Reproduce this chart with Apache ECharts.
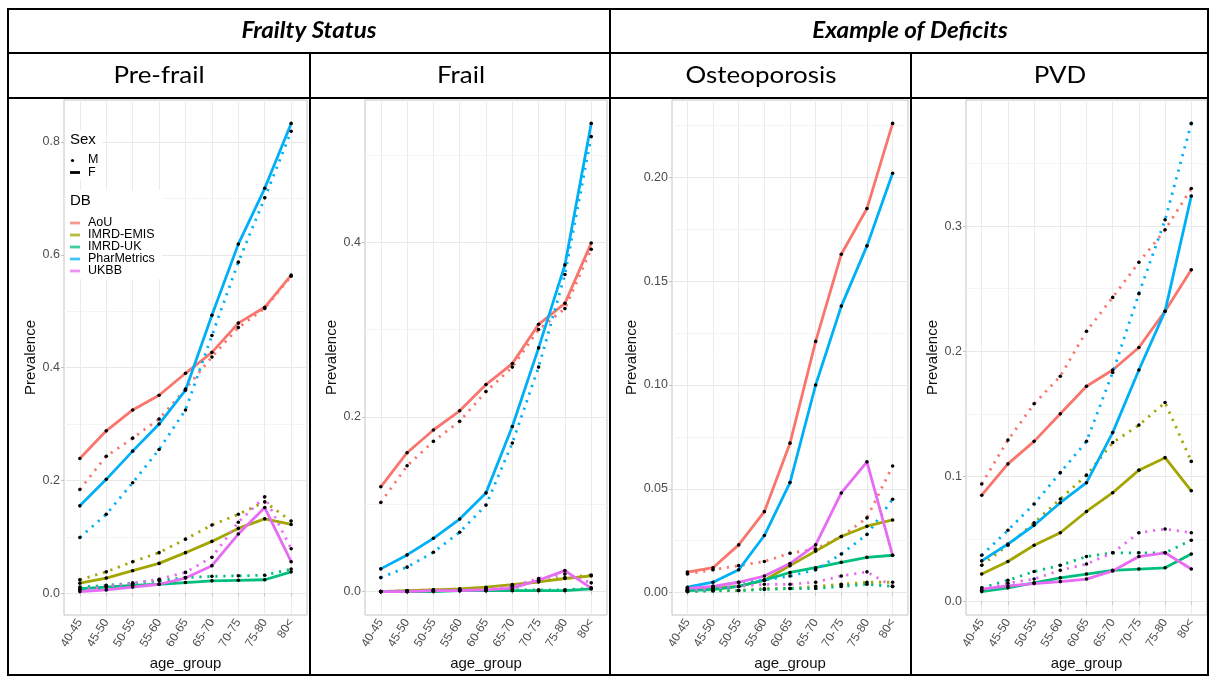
<!DOCTYPE html>
<html>
<head>
<meta charset="utf-8">
<script src="https://cdn.jsdelivr.net/npm/echarts@6.0.0/dist/echarts.min.js"></script>
<style>
html, body { margin: 0; padding: 0; background: #fff; }
#chart { width: 1210px; height: 677px; }
</style>
</head>
<body>
<div id="chart"></div>
<script>
// categories and groups
var ageGroups = ['40-45', '45-50', '50-55', '55-60', '60-65', '65-70', '70-75', '75-80', '80<'];
var dbNames = ['AoU', 'IMRD-EMIS', 'IMRD-UK', 'PharMetrics', 'UKBB'];
var sexNames = ['M', 'F'];
var groupTitles = ['Frailty Status', 'Example of Deficits'];
var panelTitles = ['Pre-frail', 'Frail', 'Osteoporosis', 'PVD'];

// Pre-frail (F = solid, M = dotted)
var preFrailAoU_F   = [0.239, 0.288, 0.325, 0.351, 0.390, 0.427, 0.479, 0.507, 0.564];
var preFrailAoU_M   = [0.184, 0.243, 0.275, 0.309, 0.362, 0.419, 0.471, 0.505, 0.562];
var preFrailEMIS_F  = [0.018, 0.027, 0.040, 0.053, 0.072, 0.092, 0.115, 0.132, 0.122];
var preFrailEMIS_M  = [0.024, 0.038, 0.056, 0.072, 0.096, 0.121, 0.140, 0.162, 0.128];
var preFrailUK_F    = [0.008, 0.011, 0.014, 0.016, 0.019, 0.022, 0.023, 0.024, 0.038];
var preFrailUK_M    = [0.011, 0.014, 0.018, 0.022, 0.028, 0.030, 0.031, 0.032, 0.043];
var preFrailPharm_F = [0.155, 0.202, 0.252, 0.300, 0.360, 0.493, 0.619, 0.718, 0.833];
var preFrailPharm_M = [0.099, 0.140, 0.196, 0.255, 0.325, 0.457, 0.587, 0.701, 0.819];
var preFrailUKBB_F  = [0.003, 0.006, 0.011, 0.016, 0.027, 0.049, 0.105, 0.152, 0.056];
var preFrailUKBB_M  = [0.006, 0.012, 0.018, 0.025, 0.037, 0.064, 0.126, 0.171, 0.079];

// Frail
var frailAoU_F   = [0.120, 0.159, 0.185, 0.207, 0.237, 0.261, 0.306, 0.330, 0.399];
var frailAoU_M   = [0.102, 0.144, 0.172, 0.195, 0.229, 0.257, 0.300, 0.324, 0.392];
var frailEMIS_F  = [0.000, 0.001, 0.002, 0.003, 0.005, 0.008, 0.011, 0.015, 0.018];
var frailEMIS_M  = [0.000, 0.001, 0.002, 0.003, 0.004, 0.007, 0.012, 0.016, 0.019];
var frailUK_F    = [0.000, 0.000, 0.000, 0.001, 0.001, 0.001, 0.001, 0.001, 0.003];
var frailUK_M    = [0.000, 0.000, 0.001, 0.001, 0.001, 0.002, 0.002, 0.002, 0.004];
var frailPharm_F = [0.026, 0.042, 0.061, 0.083, 0.113, 0.189, 0.279, 0.374, 0.536];
var frailPharm_M = [0.016, 0.028, 0.045, 0.068, 0.099, 0.170, 0.257, 0.363, 0.521];
var frailUKBB_F  = [0.000, 0.000, 0.001, 0.001, 0.002, 0.004, 0.013, 0.024, 0.004];
var frailUKBB_M  = [0.000, 0.001, 0.001, 0.002, 0.003, 0.006, 0.015, 0.020, 0.010];

// Osteoporosis
var osteoAoU_F   = [0.0099, 0.012, 0.023, 0.039, 0.072, 0.121, 0.163, 0.185, 0.226];
var osteoAoU_M   = [0.009, 0.011, 0.013, 0.015, 0.019, 0.021, 0.027, 0.036, 0.061];
var osteoEMIS_F  = [0.001, 0.002, 0.003, 0.006, 0.013, 0.020, 0.027, 0.032, 0.035];
var osteoEMIS_M  = [0.0005, 0.001, 0.001, 0.002, 0.002, 0.003, 0.004, 0.005, 0.005];
var osteoUK_F    = [0.001, 0.0015, 0.003, 0.006, 0.0097, 0.012, 0.0146, 0.017, 0.018];
var osteoUK_M    = [0.0005, 0.0008, 0.001, 0.0015, 0.002, 0.002, 0.003, 0.004, 0.003];
var osteoPharm_F = [0.0026, 0.005, 0.011, 0.0275, 0.053, 0.100, 0.138, 0.167, 0.202];
var osteoPharm_M = [0.0016, 0.003, 0.005, 0.006, 0.008, 0.011, 0.0186, 0.028, 0.045];
var osteoUKBB_F  = [0.002, 0.003, 0.005, 0.008, 0.014, 0.023, 0.048, 0.063, 0.018];
var osteoUKBB_M  = [0.001, 0.002, 0.003, 0.004, 0.004, 0.005, 0.008, 0.010, 0.003];

// PVD
var pvdAoU_F   = [0.085, 0.110, 0.128, 0.150, 0.172, 0.185, 0.203, 0.232, 0.265];
var pvdAoU_M   = [0.094, 0.129, 0.158, 0.180, 0.216, 0.243, 0.271, 0.297, 0.330];
var pvdEMIS_F  = [0.022, 0.032, 0.045, 0.055, 0.072, 0.087, 0.105, 0.115, 0.0885];
var pvdEMIS_M  = [0.029, 0.045, 0.063, 0.082, 0.101, 0.127, 0.141, 0.159, 0.112];
var pvdUK_F    = [0.008, 0.011, 0.015, 0.019, 0.022, 0.025, 0.026, 0.027, 0.038];
var pvdUK_M    = [0.011, 0.017, 0.024, 0.029, 0.036, 0.039, 0.039, 0.039, 0.049];
var pvdPharm_F = [0.0325, 0.046, 0.061, 0.079, 0.095, 0.135, 0.185, 0.232, 0.324];
var pvdPharm_M = [0.037, 0.057, 0.078, 0.103, 0.128, 0.183, 0.246, 0.305, 0.382];
var pvdUKBB_F  = [0.010, 0.0125, 0.0144, 0.016, 0.018, 0.0245, 0.036, 0.039, 0.026];
var pvdUKBB_M  = [0.009, 0.0147, 0.018, 0.025, 0.030, 0.039, 0.055, 0.058, 0.055];

// y tick values
var preFrailTicks = [0, 0.2, 0.4, 0.6, 0.8];
var preFrailMinor = [0.1, 0.3, 0.5, 0.7];
var frailTicks = [0, 0.2, 0.4];
var frailMinor = [0.1, 0.3, 0.5];
var osteoTicks = [0, 0.05, 0.10, 0.15, 0.20];
var osteoMinor = [0.025, 0.075, 0.125, 0.175, 0.225];
var pvdTicks = [0, 0.1, 0.2, 0.3];
var pvdMinor = [0.05, 0.15, 0.25, 0.35];

// ggplot default hues
var dbColors = ['#F8766D', '#A3A500', '#00BF7D', '#00B0F6', '#E76BF3'];

var panels = [
    { box: [64, 307], ticks: preFrailTicks, minor: preFrailMinor, digits: 1,
      F: [preFrailAoU_F, preFrailEMIS_F, preFrailUK_F, preFrailPharm_F, preFrailUKBB_F],
      M: [preFrailAoU_M, preFrailEMIS_M, preFrailUK_M, preFrailPharm_M, preFrailUKBB_M] },
    { box: [365, 607], ticks: frailTicks, minor: frailMinor, digits: 1,
      F: [frailAoU_F, frailEMIS_F, frailUK_F, frailPharm_F, frailUKBB_F],
      M: [frailAoU_M, frailEMIS_M, frailUK_M, frailPharm_M, frailUKBB_M] },
    { box: [672, 908], ticks: osteoTicks, minor: osteoMinor, digits: 2,
      F: [osteoAoU_F, osteoEMIS_F, osteoUK_F, osteoPharm_F, osteoUKBB_F],
      M: [osteoAoU_M, osteoEMIS_M, osteoUK_M, osteoPharm_M, osteoUKBB_M] },
    { box: [966, 1207], ticks: pvdTicks, minor: pvdMinor, digits: 1,
      F: [pvdAoU_F, pvdEMIS_F, pvdUK_F, pvdPharm_F, pvdUKBB_F],
      M: [pvdAoU_M, pvdEMIS_M, pvdUK_M, pvdPharm_M, pvdUKBB_M] }
];

var PANEL_TOP = 100;
var PANEL_BOTTOM = 615;
var plotFont = "'Liberation Sans', Arial, sans-serif";
var dottedType = [2.2, 5.8];

// ggplot style 5% expansion of the data range
function expandRange(p) {
    var all = [];
    p.F.concat(p.M).forEach(function (arr) { all = all.concat(arr); });
    var lo = Math.min.apply(null, all);
    var hi = Math.max.apply(null, all);
    var pad = (hi - lo) * 0.05;
    return [lo - pad, hi + pad];
}

var grid = [], xAxis = [], yAxis = [], series = [];

panels.forEach(function (p) {
    var ext = expandRange(p);
    var left = p.box[0];
    var width = p.box[1] - p.box[0];
    var height = PANEL_BOTTOM - PANEL_TOP;
    var inset = width * 0.6 / 9.2;

    // background grid: border, horizontal grid, y labels
    var gBg = grid.length;
    grid.push({
        left: left, top: PANEL_TOP, width: width, height: height,
        show: true, borderColor: '#c4c4c4', borderWidth: 1,
        containLabel: false, outerBoundsMode: 'none'
    });
    // data grid: discrete x positions like ggplot (0.6 padding)
    var gData = grid.length;
    grid.push({
        left: left + inset, top: PANEL_TOP, width: width - 2 * inset, height: height,
        containLabel: false, outerBoundsMode: 'none'
    });

    xAxis.push({ gridIndex: gBg, type: 'value', min: 0, max: 1, show: false });
    var xData = xAxis.length;
    xAxis.push({
        gridIndex: gData, type: 'category', data: ageGroups, boundaryGap: false,
        axisLine: { show: false },
        axisTick: { show: true, length: 3, lineStyle: { color: '#c4c4c4' } },
        axisLabel: { interval: 0, rotate: 58, fontSize: 12, color: '#4d4d4d', fontFamily: plotFont, margin: 5 },
        splitLine: { show: true, lineStyle: { color: '#ebebeb', width: 1 } },
        name: 'age_group', nameLocation: 'middle', nameGap: 38,
        nameTextStyle: { fontSize: 15, color: '#111', fontFamily: plotFont }
    });

    yAxis.push({
        gridIndex: gBg, type: 'value', min: ext[0], max: ext[1], position: 'left',
        axisLine: { show: false },
        axisTick: { show: true, length: 3, lineStyle: { color: '#c4c4c4' }, customValues: p.ticks },
        axisLabel: {
            customValues: p.ticks, color: '#4d4d4d', fontSize: 12.5, fontFamily: plotFont, margin: 4,
            formatter: function (v) { return Number(v).toFixed(p.digits); }
        },
        splitLine: { show: true, lineStyle: { color: '#e8e8e8', width: 1 } },
        name: 'Prevalence', nameLocation: 'middle', nameRotate: 90,
        nameGap: p.digits === 2 ? 30 : 22,
        nameTextStyle: { fontSize: 15, color: '#111', fontFamily: plotFont }
    });
    yAxis.push({
        gridIndex: gBg, type: 'value', min: ext[0], max: ext[1], position: 'left',
        axisLine: { show: false },
        axisTick: { show: false, customValues: p.minor },
        axisLabel: { show: false, customValues: p.minor },
        splitLine: { show: true, lineStyle: { color: '#f4f4f4', width: 1 } }
    });
    var yData = yAxis.length;
    yAxis.push({ gridIndex: gData, type: 'value', min: ext[0], max: ext[1], show: false });

    dbNames.forEach(function (db, k) {
        series.push({
            type: 'line', name: db + ' F', xAxisIndex: xData, yAxisIndex: yData,
            data: p.F[k], symbol: 'none', silent: true, z: 2,
            lineStyle: { color: dbColors[k], width: 2.8 }
        });
        series.push({
            type: 'line', name: db + ' M', xAxisIndex: xData, yAxisIndex: yData,
            data: p.M[k], symbol: 'none', silent: true, z: 2,
            lineStyle: { color: dbColors[k], width: 2.8, type: dottedType }
        });
    });
    // black points on top of every line
    dbNames.forEach(function (db, k) {
        [p.F[k], p.M[k]].forEach(function (arr) {
            series.push({
                type: 'line', xAxisIndex: xData, yAxisIndex: yData, data: arr,
                symbol: 'circle', symbolSize: 3.6, showSymbol: true, showAllSymbol: true,
                silent: true, z: 4,
                itemStyle: { color: '#000' },
                lineStyle: { opacity: 0, width: 0 }
            });
        });
    });
});

// table frame and headers
var graphic = [];
function hline(x1, x2, y) {
    graphic.push({ type: 'line', shape: { x1: x1, y1: y, x2: x2, y2: y }, style: { stroke: '#000', lineWidth: 2 }, z: 20 });
}
function vline(x, y1, y2) {
    graphic.push({ type: 'line', shape: { x1: x, y1: y1, x2: x, y2: y2 }, style: { stroke: '#000', lineWidth: 2 }, z: 20 });
}
hline(7, 1209, 9);
hline(7, 1209, 53);
hline(7, 1209, 98);
hline(7, 1209, 675);
vline(8, 9, 675);
vline(610, 9, 675);
vline(1208, 9, 675);
vline(310, 53, 675);
vline(911, 53, 675);

function label(txt, x, y, opts) {
    graphic.push({
        type: 'text', x: x, y: y, scaleX: opts.scaleX || 1, z: 21,
        style: {
            text: txt, x: 0, y: 0,
            textAlign: opts.align || 'center', align: opts.align || 'center',
            textVerticalAlign: 'middle', verticalAlign: 'middle',
            fontSize: opts.size, fontFamily: opts.family || plotFont,
            fontWeight: opts.weight || 'normal', fontStyle: opts.style || 'normal',
            fill: opts.color || '#000'
        }
    });
}
label(groupTitles[0], 309, 31, { size: 22, family: 'Lato', weight: 'bold', style: 'italic', scaleX: 1.1 });
label(groupTitles[1], 910, 31, { size: 22, family: 'Lato', weight: 'bold', style: 'italic', scaleX: 1.1 });
var titleCenters = [159, 461, 761, 1060];
panelTitles.forEach(function (t, i) {
    label(t, titleCenters[i], 75, { size: 24, family: 'Lato', scaleX: 1.08 });
});

// legend inside the first panel
graphic.push({ type: 'rect', shape: { x: 65, y: 130, width: 37, height: 50 }, style: { fill: '#fff' }, z: 10 });
graphic.push({ type: 'rect', shape: { x: 65, y: 190, width: 97, height: 89 }, style: { fill: '#fff' }, z: 10 });
label('Sex', 70, 140, { size: 15, align: 'left' });
label('DB', 70, 201, { size: 15, align: 'left' });
graphic.push({ type: 'circle', shape: { cx: 72.5, cy: 160.5, r: 1.6 }, style: { fill: '#000' }, z: 11 });
graphic.push({ type: 'line', shape: { x1: 70, y1: 172.5, x2: 80, y2: 172.5 }, style: { stroke: '#000', lineWidth: 2.8 }, z: 11 });
label(sexNames[0], 88, 160, { size: 12.5, align: 'left' });
label(sexNames[1], 88, 172.5, { size: 12.5, align: 'left' });
dbNames.forEach(function (db, k) {
    var y = 223 + 12 * k;
    graphic.push({ type: 'line', shape: { x1: 70, y1: y, x2: 80, y2: y }, style: { stroke: dbColors[k], lineWidth: 2.8, opacity: 0.75 }, z: 11 });
    label(db, 88, y, { size: 12.5, align: 'left' });
});

var chart = echarts.init(document.getElementById('chart'), null, { renderer: 'canvas' });
chart.setOption({
    animation: false,
    backgroundColor: '#fff',
    grid: grid,
    xAxis: xAxis,
    yAxis: yAxis,
    series: series,
    graphic: graphic
});
</script>
</body>
</html>
